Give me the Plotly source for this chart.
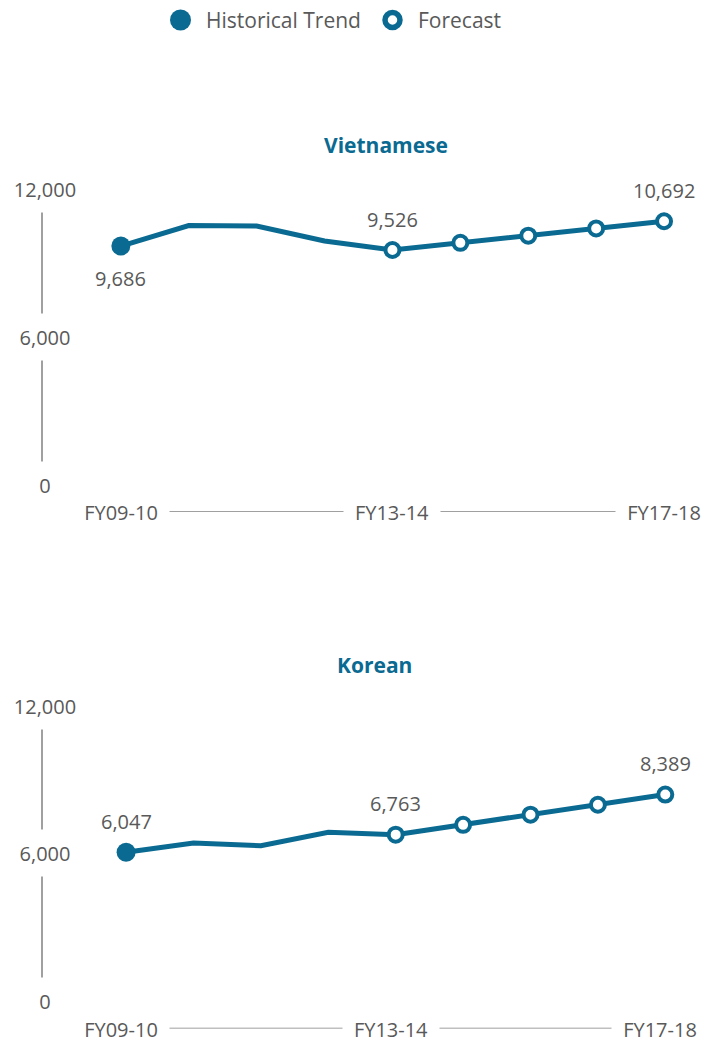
import plotly.graph_objects as go

# Fiscal-year periods (only first, middle and last are labelled on the axis)
periods = ["FY09-10", "FY10-11", "FY11-12", "FY12-13", "FY13-14",
           "FY14-15", "FY15-16", "FY16-17", "FY17-18"]
axis_periods = ["FY09-10", "FY13-14", "FY17-18"]

# Series values: history runs FY09-10..FY13-14, forecast FY13-14..FY17-18
vietnamese_hist = [9686, 10520, 10500, 9890, 9526]
vietnamese_fcst = [9526, 9815, 10105, 10400, 10692]
korean_hist = [6047, 6420, 6315, 6860, 6763]
korean_fcst = [6763, 7160, 7570, 7975, 8389]

y_ticks = [0, 6000, 12000]
legend_names = ["Historical Trend", "Forecast"]

BLUE = "#0a6a91"
GREY_TEXT = "#595959"
GREY_LINE = "#808080"
FONT = "Open Sans"
W, H = 704, 1042

FILLED = dict(symbol="circle", size=19, color=BLUE, line=dict(width=0))
OPEN = dict(symbol="circle", size=14, color="white", line=dict(width=4, color=BLUE))


def py(px):
    """Vertical pixel -> paper fraction."""
    return (H - px) / H


def px_x(px):
    return px / W


fig = go.Figure()

panels = [
    dict(name="Vietnamese", hist=vietnamese_hist, fcst=vietnamese_fcst,
         xa="x", ya="y", title_x=386, title_y=145,
         label_pos=["below", "above", "above"], xlab_shift=0),
    dict(name="Korean", hist=korean_hist, fcst=korean_fcst,
         xa="x2", ya="y2", title_x=374, title_y=665,
         label_pos=["above", "above", "above"], xlab_shift=-5),
]

annotations = []
shapes = []

for p in panels:
    full = p["hist"] + p["fcst"][1:]
    n_hist = len(p["hist"])
    fcst_x = periods[n_hist - 1:]

    # connecting line through the whole series
    fig.add_trace(go.Scatter(
        x=periods, y=full, mode="lines", xaxis=p["xa"], yaxis=p["ya"],
        line=dict(color=BLUE, width=5), showlegend=False, hoverinfo="skip"))
    # historical start point (filled)
    fig.add_trace(go.Scatter(
        x=periods[:1], y=p["hist"][:1], mode="markers", xaxis=p["xa"], yaxis=p["ya"],
        marker=FILLED, name=legend_names[0], showlegend=False))
    # forecast points (open)
    fig.add_trace(go.Scatter(
        x=fcst_x, y=p["fcst"], mode="markers", xaxis=p["xa"], yaxis=p["ya"],
        marker=OPEN, name=legend_names[1], showlegend=False))

    yref = p["ya"]
    xref = p["xa"]

    # y axis line, interrupted by tick labels
    shapes.append(dict(type="line", xref="paper", yref=yref,
                       x0=px_x(42), x1=px_x(42), y0=0, y1=12000,
                       line=dict(color=GREY_LINE, width=1.5), layer="below"))
    # x axis line, interrupted by period labels
    shapes.append(dict(type="line", xref=xref, yref=yref,
                       x0=periods[0], x1=periods[-1], y0=-1100, y1=-1100,
                       line=dict(color=GREY_LINE, width=1.5), layer="below"))

    for t in y_ticks:
        annotations.append(dict(
            x=px_x(45), xref="paper", y=t, yref=yref, text=f"{t:,}",
            showarrow=False, xanchor="center", yanchor="middle",
            bgcolor="white", height=44, width=74,
            font=dict(family=FONT, size=20, color=GREY_TEXT)))
    for lab in axis_periods:
        annotations.append(dict(
            x=lab, xref=xref, y=-1100, yref=yref, text=lab,
            showarrow=False, xanchor="center", yanchor="middle",
            xshift=p["xlab_shift"], bgcolor="white", width=94, height=30,
            font=dict(family=FONT, size=20, color=GREY_TEXT)))

    # value labels on first, last-historical and last-forecast points
    labelled = [(periods[0], full[0]), (periods[n_hist - 1], full[n_hist - 1]),
                (periods[-1], full[-1])]
    for (xv, yv), pos in zip(labelled, p["label_pos"]):
        annotations.append(dict(
            x=xv, xref=xref, y=yv, yref=yref, text=f"{yv:,}",
            showarrow=False, xanchor="center", yanchor="middle",
            yshift=31 if pos == "above" else -32,
            font=dict(family=FONT, size=20, color=GREY_TEXT)))

    # panel title
    annotations.append(dict(
        x=px_x(p["title_x"]), xref="paper", y=py(p["title_y"]), yref="paper",
        text=f"<b>{p['name']}</b>", showarrow=False,
        xanchor="center", yanchor="middle",
        font=dict(family=FONT, size=21, color=BLUE)))

# Key at the top: symbols drawn on a small pixel-scaled strip, names as text
key_symbol_x = [180.5, 392.5]
key_text_x = [204, 416]
key_markers = [dict(FILLED, size=21), dict(OPEN, size=15, line=dict(width=5.5, color=BLUE))]
for name, sx, tx, mk in zip(legend_names, key_symbol_x, key_text_x, key_markers):
    fig.add_trace(go.Scatter(
        x=[sx], y=[0], mode="markers", xaxis="x3", yaxis="y3",
        marker=mk, name=name, showlegend=False, hoverinfo="skip"))
    annotations.append(dict(
        x=tx, xref="x3", y=0, yref="y3", text=name, showarrow=False,
        xanchor="left", yanchor="middle", yshift=0,
        font=dict(family=FONT, size=21, color=GREY_TEXT)))

hidden = dict(visible=False, showgrid=False, zeroline=False)

fig.update_layout(
    width=W, height=H,
    margin=dict(l=0, r=0, t=0, b=0),
    paper_bgcolor="white", plot_bgcolor="white",
    font=dict(family=FONT, color=GREY_TEXT),
    showlegend=False,
    xaxis=dict(hidden, domain=[px_x(19), px_x(698)], range=[-1.5, 8.5],
               type="category", categoryarray=periods),
    yaxis=dict(hidden, domain=[py(512), py(189)], range=[-1100, 12000]),
    xaxis2=dict(hidden, domain=[px_x(25), px_x(699)], range=[-1.5, 8.5],
                type="category", categoryarray=periods),
    yaxis2=dict(hidden, domain=[py(1028.5), py(705.5)], range=[-1100, 12000]),
    xaxis3=dict(hidden, domain=[0, 1], range=[0, W]),
    yaxis3=dict(hidden, domain=[py(39), py(1)], range=[-1, 1]),
    annotations=annotations,
    shapes=shapes,
    hovermode=False,
)

fig.write_html("out.html")
